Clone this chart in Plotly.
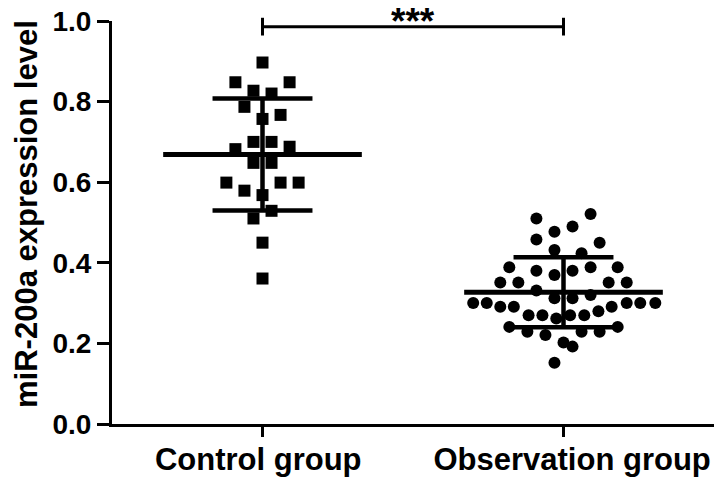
import plotly.graph_objects as go

# Control group: expression values and horizontal jitter (x offset from group centre)
ctrl_vals = [0.897, 0.848, 0.848, 0.827, 0.820, 0.787, 0.767, 0.757, 0.700, 0.700,
             0.682, 0.688, 0.648, 0.648, 0.599, 0.599, 0.599, 0.579, 0.568, 0.529,
             0.510, 0.450, 0.361]
ctrl_jitter = [0, -0.09, 0.09, -0.03, 0.03, -0.06, 0.06, 0, -0.03, 0.03,
               -0.09, 0.09, -0.03, 0.03, -0.12, 0.06, 0.12, -0.06, 0, 0.03,
               -0.03, 0, 0]

# Observation group
obs_vals = [0.510, 0.521, 0.477, 0.490, 0.458, 0.450, 0.432, 0.424, 0.389, 0.380,
            0.370, 0.380, 0.389, 0.389, 0.351, 0.351, 0.351, 0.351, 0.331, 0.320,
            0.312, 0.312, 0.300, 0.300, 0.291, 0.291, 0.300, 0.300, 0.300, 0.291,
            0.280, 0.270, 0.270, 0.262, 0.270, 0.270, 0.241, 0.241, 0.229, 0.221,
            0.229, 0.229, 0.202, 0.192, 0.152]
obs_jitter = [-0.09, 0.09, -0.03, 0.03, -0.09, 0.12, -0.03, 0.06, -0.18, -0.09,
              -0.03, 0.03, 0.09, 0.18, -0.21, -0.15, 0.15, 0.21, -0.09, 0.09,
              -0.03, 0.03, -0.30, -0.255, -0.21, -0.165, 0.21, 0.255, 0.305, 0.16,
              0.116, -0.116, -0.07, -0.024, 0.022, 0.069, -0.18, 0.18, -0.12, -0.06,
              0.06, 0.12, 0, 0.03, -0.03]

# labels sit slightly off-centre in the original, nbsp padding nudges them
groups = ["Control group\u00a0", "\u00a0\u00a0Observation group"]
group_pos = [1, 2]
means = [0.669, 0.327]
sds = [0.139, 0.087]
sig_label = "***"

FONT = "Liberation Sans, Arial, sans-serif"

fig = go.Figure()

# individual points
fig.add_trace(go.Scatter(
    x=[group_pos[0] + j for j in ctrl_jitter],
    y=ctrl_vals,
    mode="markers",
    marker=dict(symbol="square", size=12, color="black", line=dict(width=0)),
    showlegend=False,
))
fig.add_trace(go.Scatter(
    x=[group_pos[1] + j for j in obs_jitter],
    y=obs_vals,
    mode="markers",
    marker=dict(symbol="circle", size=12, color="black", line=dict(width=0)),
    showlegend=False,
))

# mean line + SD error bar for each group
for pos, m, s in zip(group_pos, means, sds):
    fig.add_trace(go.Scatter(
        x=[pos - 0.33, pos + 0.33],
        y=[m, m],
        mode="lines",
        line=dict(color="black", width=5),
        showlegend=False,
    ))
    fig.add_trace(go.Scatter(
        x=[pos, pos, None, pos - 0.166, pos + 0.166, None, pos - 0.166, pos + 0.166],
        y=[m - s, m + s, None, m + s, m + s, None, m - s, m - s],
        mode="lines",
        line=dict(color="black", width=4.5),
        showlegend=False,
    ))

# significance bracket
y_br = 0.986
fig.add_shape(type="line", xref="x", yref="paper",
              x0=group_pos[0], x1=group_pos[1], y0=y_br, y1=y_br,
              line=dict(color="black", width=3))
for pos in group_pos:
    fig.add_shape(type="line", xref="x", yref="paper",
                  x0=pos, x1=pos, y0=y_br - 0.022, y1=y_br + 0.022,
                  line=dict(color="black", width=3))
fig.add_annotation(
    x=sum(group_pos) / 2, y=y_br, xref="x", yref="paper",
    text=sig_label, showarrow=False, yanchor="bottom", yshift=-17,
    font=dict(family=FONT, size=37, color="black", weight="bold"),
)

# y-axis title
fig.add_annotation(
    x=-0.142, y=0.52, xref="paper", yref="paper",
    text="miR-200a expression level", textangle=-90, showarrow=False,
    xanchor="center", yanchor="middle",
    font=dict(family=FONT, size=31, color="black", weight="bold"),
)

fig.update_layout(
    width=724, height=486,
    margin=dict(l=112, r=10, t=21, b=62, autoexpand=False),
    paper_bgcolor="white",
    plot_bgcolor="white",
    showlegend=False,
)

fig.update_xaxes(
    range=[0.5, 2.5],
    tickvals=group_pos, ticktext=groups,
    showline=True, linecolor="black", linewidth=3,
    ticks="outside", ticklen=10, tickwidth=3, tickcolor="black",
    ticklabelstandoff=-4,
    showgrid=False, zeroline=False, automargin=False,
    tickfont=dict(family=FONT, size=31, color="black", weight="bold"),
)
fig.update_yaxes(
    range=[0, 1.0],
    tickvals=[0, 0.2, 0.4, 0.6, 0.8, 1.0], tickformat=".1f",
    showline=True, linecolor="black", linewidth=3,
    ticks="outside", ticklen=12, tickwidth=3, tickcolor="black",
    showgrid=False, zeroline=False, automargin=False,
    tickfont=dict(family=FONT, size=28, color="black", weight="bold"),
)

fig.write_html(
    "out.html",
    config={"displayModeBar": False},
    post_script="document.body.style.margin='0';",
)
